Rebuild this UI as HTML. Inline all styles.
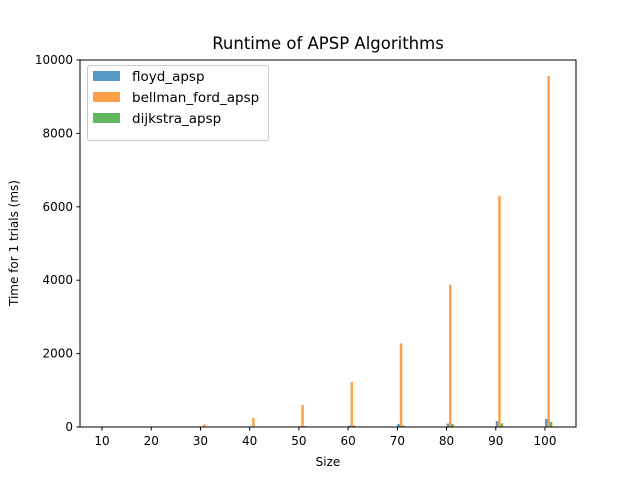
<!DOCTYPE html>
<html><head><meta charset="utf-8"><style>
body{margin:0;background:#fff;}
svg{display:block;font-family:"DejaVu Sans","Liberation Sans",sans-serif;}
</style></head><body>
<svg id="chart" width="640" height="480">
<rect width="640" height="480" fill="#fff"/>
<text x="328" y="49" text-anchor="middle" font-size="16.5">Runtime of APSP Algorithms</text>
<g id="bars"></g>
<g id="axes"></g>
<text x="328" y="466" text-anchor="middle" font-size="12">Size</text>
<text transform="translate(18,243) rotate(-90)" text-anchor="middle" font-size="12">Time for 1 trials (ms)</text>
<g>
<rect x="87.5" y="65.5" width="181" height="75" rx="2" fill="#fff" fill-opacity="0.8" stroke="#ccc"/>
<rect x="93" y="71" width="27" height="10" fill="#1f77b4" fill-opacity="0.75"/>
<text x="132" y="81" font-size="13.5">floyd_apsp</text>
<rect x="93" y="92" width="27" height="10" fill="#ff7f0e" fill-opacity="0.75"/>
<text x="132" y="102" font-size="13.5">bellman_ford_apsp</text>
<rect x="93" y="113" width="27" height="10" fill="#2ca02c" fill-opacity="0.75"/>
<text x="132" y="123" font-size="13.5">dijkstra_apsp</text>
</g>
</svg>
<script>
const sizes=[10,20,30,40,50,60,70,80,90,100];
const floyd=[0.2,1.5,5,12,25,40,85,95,160,220];
const bellman=[1,10,70,250,600,1230,2280,3880,6300,9560];
const dijkstra=[0.5,3,8,15,25,40,40,80,100,140];
const yTicks=[0,2000,4000,6000,8000,10000];
const xTicks=[10,20,30,40,50,60,70,80,90,100];
const NS='http://www.w3.org/2000/svg';
const L=80,R=576,T=60,B=427;
const xs=v=>102+(v-10)*(545-102)/90;
const ys=v=>B-v*(B-T)/10000;
const bw=0.5*(545-102)/90;
const g=document.getElementById('bars');
const series=[[floyd,'#1f77b4',0,'floyd'],[bellman,'#ff7f0e',0.5,'bellman-ford'],[dijkstra,'#2ca02c',1,'dijkstra']];
series.forEach(([arr,c,off,nm])=>{
 arr.forEach((v,i)=>{
  const r=document.createElementNS(NS,'rect');
  r.setAttribute('x',xs(sizes[i]+off));
  r.setAttribute('y',ys(v));
  r.setAttribute('width',bw);
  r.setAttribute('height',B-ys(v));
  r.setAttribute('fill',c);
  r.setAttribute('fill-opacity','0.75');
  
  
  g.appendChild(r);
 });
});
const a=document.getElementById('axes');
a.innerHTML='<rect x="'+L+'" y="'+T+'" width="'+(R-L)+'" height="'+(B-T)+'" fill="none" stroke="#000" stroke-width="1"/>';
yTicks.forEach(t=>{
 const y=ys(t);
 const l=document.createElementNS(NS,'line');
 l.setAttribute('x1',L-3.5);l.setAttribute('x2',L);l.setAttribute('y1',y);l.setAttribute('y2',y);l.setAttribute('stroke','#000');
 a.appendChild(l);
 const tx=document.createElementNS(NS,'text');
 tx.setAttribute('x',L-7);tx.setAttribute('y',y+4);tx.setAttribute('text-anchor','end');tx.setAttribute('font-size','12');
 tx.textContent=t;
 
 
 a.appendChild(tx);
});
xTicks.forEach(t=>{
 const x=xs(t);
 const l=document.createElementNS(NS,'line');
 l.setAttribute('x1',x);l.setAttribute('x2',x);l.setAttribute('y1',B);l.setAttribute('y2',B+3.5);l.setAttribute('stroke','#000');
 a.appendChild(l);
 const tx=document.createElementNS(NS,'text');
 tx.setAttribute('x',x);tx.setAttribute('y',B+18);tx.setAttribute('text-anchor','middle');tx.setAttribute('font-size','12');
 tx.textContent=t;
 
 
 a.appendChild(tx);
});
</script>
</body></html>
